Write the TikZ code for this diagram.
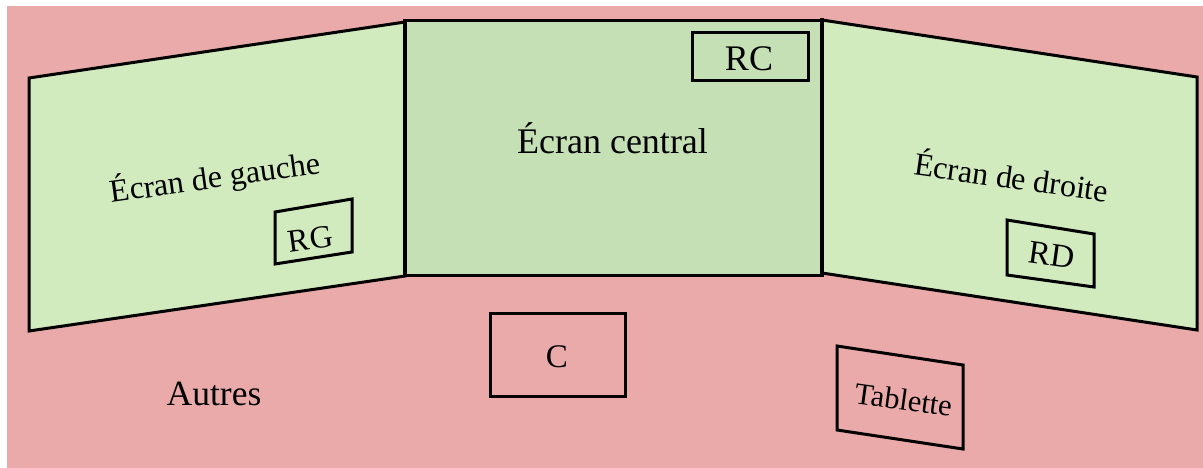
\documentclass[tikz,border=0pt]{standalone}
\usepackage{fontspec}
\setmainfont{Liberation Serif}
\definecolor{pinkbg}{HTML}{EBAAAA}
\definecolor{sidegreen}{HTML}{D1EBBE}
\definecolor{midgreen}{HTML}{C5E0B4}
\begin{document}
\begin{tikzpicture}[x=1pt,y=-1pt,line join=miter,
  panel/.style={draw=black,line width=3pt},
  smallbox/.style={draw=black,line width=3pt},
  lbl/.style={inner sep=0pt,anchor=base}]
\useasboundingbox (0,0) rectangle (1203,468);
\fill[white] (0,0) rectangle (1203,468);
\fill[pinkbg] (7,6) rectangle (1203,468);
% side panels
\filldraw[panel,fill=sidegreen] (29,78) -- (405,22) -- (405,276) -- (29,331) -- cycle;
\filldraw[panel,fill=sidegreen] (822,20) -- (1197,77) -- (1197,330) -- (822,273) -- cycle;
% central panel
\filldraw[panel,fill=midgreen] (405,21) rectangle (822,275);
\draw[line width=4.5pt] (405,19) -- (405,277);
\draw[line width=4.5pt] (822,18) -- (822,277);
% small boxes
\draw[smallbox] (692,33) rectangle (808,81);
\draw[smallbox] (275,212) -- (352,199) -- (352,252) -- (275,264) -- cycle;
\draw[smallbox] (1007,220) -- (1094,234) -- (1094,287) -- (1007,275) -- cycle;
\draw[smallbox] (490,313) rectangle (625,396);
\draw[smallbox] (837,346) -- (963,365) -- (963,449) -- (837,430) -- cycle;
% labels
\node[lbl,font=\fontsize{36}{40}\selectfont] (central) at (612.5,154) {Écran central};
\node[lbl,font=\fontsize{36}{40}\selectfont] (rc) at (749,71) {RC};
\node[lbl,font=\fontsize{32}{38}\selectfont,rotate=8] (gauche) at (216.5,188) {Écran de gauche};
\node[lbl,font=\fontsize{32}{38}\selectfont,rotate=8] (rg) at (312,249) {RG};
\node[lbl,font=\fontsize{32}{38}\selectfont,rotate=-8] (droite) at (1010,188.5) {Écran de droite};
\node[lbl,font=\fontsize{33}{38}\selectfont,rotate=-8] (rd) at (1050,266) {RD};
\node[lbl,font=\fontsize{33}{38}\selectfont] (c) at (557,367) {C};
\node[lbl,font=\fontsize{35.5}{40}\selectfont] (autres) at (214,405) {Autres};
\node[lbl,font=\fontsize{30.5}{36}\selectfont,rotate=-8] (tablette) at (902,410) {Tablette};
\end{tikzpicture}
\end{document}
